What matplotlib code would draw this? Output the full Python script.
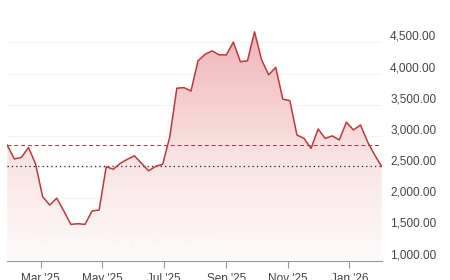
#!/usr/bin/env python
import matplotlib
matplotlib.use('Agg')
import matplotlib.pyplot as plt
import matplotlib.dates as mdates
from matplotlib.colors import LinearSegmentedColormap
from matplotlib.transforms import ScaledTranslation
import numpy as np
import pandas as pd

# weekly readings, late Jan 2025 -> early Feb 2026
dates = pd.date_range('2025-01-27', periods=54, freq='7D')
values = [2850, 2630, 2655, 2815, 2550, 2025, 1890, 2000, 1795, 1580,
          1590, 1580, 1795, 1810, 2505, 2465, 2560, 2625, 2680, 2560,
          2440, 2510, 2545, 2985, 3765, 3775, 3720, 4205, 4310, 4365,
          4300, 4300, 4505, 4190, 4205, 4670, 4220, 3980, 4100, 3590,
          3565, 3015, 2960, 2800, 3110, 2960, 3000, 2935, 3220, 3095,
          3175, 2905, 2695, 2510]
yticks = [1000, 1500, 2000, 2500, 3000, 3500, 4000, 4500]
xtick_dates = pd.to_datetime(['2025-03-01', '2025-05-01', '2025-07-01',
                              '2025-09-01', '2025-11-01', '2026-01-01'])

plt.rcParams['font.family'] = ['Liberation Sans', 'DejaVu Sans']

fig = plt.figure(figsize=(4.5, 2.8), dpi=100)
ax = fig.add_axes([7.3 / 450, 1 - 260.5 / 280, (381.7 - 7.3) / 450, (260.5 - 20) / 280])

x = mdates.date2num(dates)
ymin, ymax = 1000, 4860
ax.set_xlim(x[0], x[-1])
ax.set_ylim(ymin, ymax)

# gradient fill under the line
cmap = LinearSegmentedColormap.from_list('fade', ['#fefafa', '#f9e0e0', '#f0b5b6'])
grad = np.linspace(0, 1, 256).reshape(-1, 1)
im = ax.imshow(grad, cmap=cmap, aspect='auto', origin='lower',
               extent=[x[0], x[-1], ymin, max(values)], zorder=1)
poly = ax.fill_between(x, values, ymin, facecolor='none', edgecolor='none')
clip = poly.get_paths()[0]
im.set_clip_path(clip, transform=ax.transData)

for v in yticks[1:]:
    ax.axhline(v, color='#f3f3f3', lw=0.8, zorder=0.5)

ax.axhline(values[0], color='#a0353a', lw=0.7, ls=(0, (4, 3)), zorder=2)
ax.axhline(values[-1], color='#222222', lw=0.9, ls=(0, (1, 2.5)), zorder=2)
ax.plot(x, values, color='#b73a40', lw=1.1, zorder=3)

ax.text(0.02, 0.058, 'ExchangeRates.org.uk', transform=ax.transAxes,
        fontsize=13.5, fontweight='bold', color='white', alpha=0.4, zorder=4)

for s in ['top', 'right', 'left']:
    ax.spines[s].set_visible(False)
ax.spines['bottom'].set_color('#999999')
ax.spines['bottom'].set_linewidth(0.8)

ax.set_xticks(mdates.date2num(xtick_dates))
ax.set_xticklabels([d.strftime("%b '%y") for d in xtick_dates])
ax.tick_params(axis='x', length=5, width=0.8, color='#999999', pad=4,
               labelsize=8.5, labelcolor='#444444')

ax.yaxis.tick_right()
ax.set_yticks(yticks)
ax.set_yticklabels([f'{v:,.2f}' for v in yticks])
ax.tick_params(axis='y', length=0, pad=6, labelsize=8.5, labelcolor='#444444')
off = ScaledTranslation(0, 5 / 72, fig.dpi_scale_trans)
for lab in ax.get_yticklabels():
    lab.set_transform(lab.get_transform() + off)

fig.savefig('out.png', dpi=100)
